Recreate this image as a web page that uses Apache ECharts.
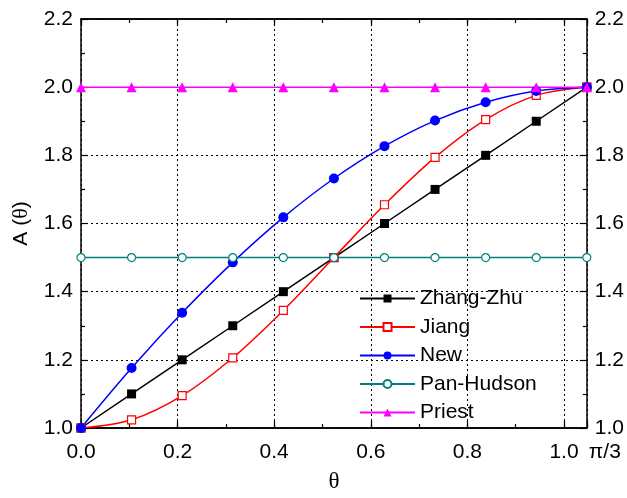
<!DOCTYPE html>
<html><head><meta charset="utf-8">
<script src="https://cdn.jsdelivr.net/npm/echarts@6/dist/echarts.min.js"></script>
<style>html,body{margin:0;padding:0;background:#fff}#c{width:627px;height:498px}</style>
</head><body><div id="c"></div>
<script>
var theta = [0, 0.1047, 0.2094, 0.3142, 0.4189, 0.5236, 0.6283, 0.7330, 0.8378, 0.9425, 1.0472];
var zhangZhu = [1.0, 1.1, 1.2, 1.3, 1.4, 1.5, 1.6, 1.7, 1.8, 1.9, 2.0];
var jiang = [1.0, 1.024, 1.095, 1.206, 1.345, 1.5, 1.655, 1.794, 1.905, 1.976, 2.0];
var newA = [1.0, 1.176, 1.338, 1.486, 1.618, 1.732, 1.827, 1.902, 1.956, 1.989, 2.0];
var panHudson = [1.5, 1.5, 1.5, 1.5, 1.5, 1.5, 1.5, 1.5, 1.5, 1.5, 1.5];
var priest = [2.0, 2.0, 2.0, 2.0, 2.0, 2.0, 2.0, 2.0, 2.0, 2.0, 2.0];
var seriesNames = ['Zhang-Zhu', 'Jiang', 'New', 'Pan-Hudson', 'Priest'];
var xMax = 1.0472;

function pts(ys){ return theta.map(function(x,i){ return [x, ys[i]]; }); }

var FONT = 'Liberation Sans';
var FS = 21;
var chart = echarts.init(document.getElementById('c'), null, {renderer:'canvas'});
var black = '#000';
function xAx(pos, interval, tickLen, extra){
  var o = {
    type:'value', position:pos, min:0, max:xMax, interval:interval,
    axisLine:{show:true, onZero:false, lineStyle:{color:black, width:1.5}},
    axisTick:{show:true, inside:true, length:tickLen, lineStyle:{color:black, width:1.2}},
    axisLabel:{show:false},
    splitLine:{show:false}
  };
  for (var k in extra) o[k] = extra[k];
  return o;
}
var option = {
  animation:false,
  backgroundColor:'#fff',
  grid:{left:81, right:39, top:19, bottom:66, containLabel:false},
  legend:{
    orient:'vertical', left:354, top:283, itemWidth:55, itemHeight:10, itemGap:7.5,
    textStyle:{fontFamily:FONT, fontSize:FS, color:black},
    data:seriesNames
  },
  xAxis:[
    xAx('bottom', 0.2, 7, {
      name:'θ', nameLocation:'middle', nameGap:42,
      nameTextStyle:{fontFamily:'Liberation Serif', fontSize:23, color:black},
      axisLabel:{show:true, showMaxLabel:true, showMinLabel:true, margin:14, fontFamily:FONT, fontSize:FS, color:black,
        formatter:function(v){ return v > 1.04 ? '{p|π/3}' : v.toFixed(1); },
        rich:{p:{fontFamily:FONT, fontSize:FS, color:black, padding:[0,0,0,36]}}
      },
      splitLine:{show:true, lineStyle:{color:black, type:[2,3], width:1}}
    }),
    xAx('bottom', 0.1, 4, {}),
    xAx('top', 0.2, 7, {}),
    xAx('top', 0.1, 4, {})
  ],
  yAxis:[
    {type:'value', position:'left', min:1.0, max:2.2, interval:0.2,
     name:'{a|A (}{t|θ}{a|)}', nameLocation:'middle', nameGap:49, nameRotate:90,
     nameTextStyle:{rich:{a:{fontFamily:FONT, fontSize:FS, color:black}, t:{fontFamily:'Liberation Serif', fontSize:22, color:black}}},
     axisLine:{show:true, onZero:false, lineStyle:{color:black, width:1.5}},
     axisTick:{show:true, inside:true, length:7, lineStyle:{color:black, width:1.2}},
     minorTick:{show:true, splitNumber:2, length:4, lineStyle:{color:black, width:1.2}},
     axisLabel:{margin:8, fontFamily:FONT, fontSize:FS, color:black, formatter:function(v){return v.toFixed(1);}},
     splitLine:{show:true, lineStyle:{color:black, type:[2,3], width:1}}
    },
    {type:'value', position:'right', min:1.0, max:2.2, interval:0.2,
     axisLine:{show:true, onZero:false, lineStyle:{color:black, width:1.5}},
     axisTick:{show:true, inside:true, length:7, lineStyle:{color:black, width:1.2}},
     minorTick:{show:true, splitNumber:2, length:4, lineStyle:{color:black, width:1.2}},
     axisLabel:{margin:8, fontFamily:FONT, fontSize:FS, color:black, formatter:function(v){return v.toFixed(1);}},
     splitLine:{show:false}
    }
  ],
  series:[
    {name:'Zhang-Zhu', type:'line', data:pts(zhangZhu), symbol:'rect', symbolSize:9,
     lineStyle:{color:'#000', width:1.5}, itemStyle:{color:'#000', borderColor:'#000', borderWidth:0}},
    {name:'Jiang', type:'line', data:pts(jiang), smooth:0.35, symbol:'rect', symbolSize:8,
     lineStyle:{color:'#ff0000', width:1.5}, itemStyle:{color:'#fff', borderColor:'#ff0000', borderWidth:1.2}},
    {name:'New', type:'line', data:pts(newA), smooth:0.35, symbol:'circle', symbolSize:10,
     lineStyle:{color:'#0000ff', width:1.5}, itemStyle:{color:'#0000ff', borderColor:'#0000ff', borderWidth:0}},
    {name:'Pan-Hudson', type:'line', data:pts(panHudson), symbol:'circle', symbolSize:8,
     lineStyle:{color:'#008080', width:1.5}, itemStyle:{color:'#fff', borderColor:'#008080', borderWidth:1.2}},
    {name:'Priest', type:'line', data:pts(priest), symbol:'triangle', symbolSize:10,
     lineStyle:{color:'#ff00ff', width:1.5}, itemStyle:{color:'#ff00ff', borderColor:'#ff00ff', borderWidth:0}}
  ]
};
chart.setOption(option);
</script></body></html>
